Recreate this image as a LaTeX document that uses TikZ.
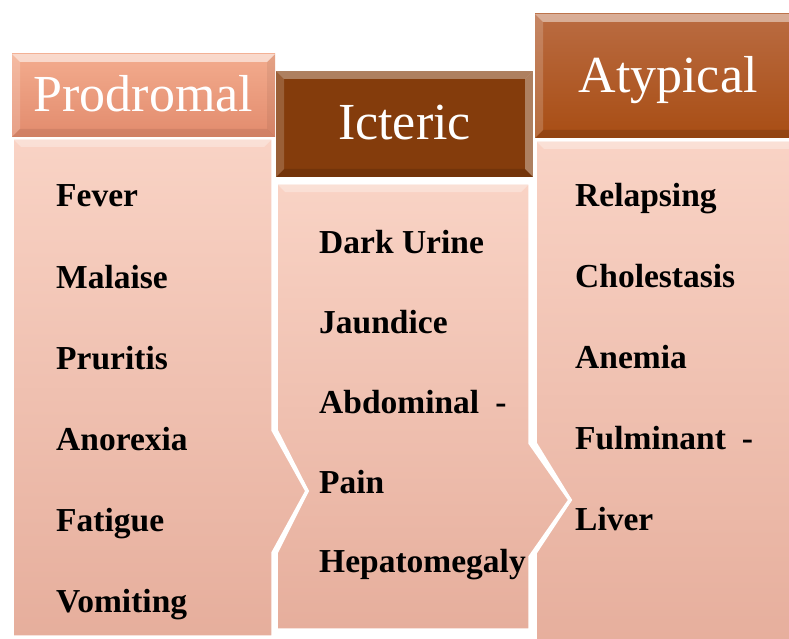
\documentclass[tikz,border=0pt]{standalone}
\usepackage{fontspec}
\setmainfont{Liberation Serif}
\definecolor{hOneTop}{HTML}{F3AC8E}
\definecolor{hOneBot}{HTML}{E28B6D}
\definecolor{hTwo}{HTML}{843C0C}
\definecolor{hThreeTop}{HTML}{BA6C42}
\definecolor{hThreeBot}{HTML}{A84D14}
\definecolor{bodyTop}{HTML}{F9D3C5}
\definecolor{bodyBot}{HTML}{E6AE9C}
\tikzset{
  headtext/.style={text=white, font=\fontsize{52}{58}\selectfont, anchor=base, inner sep=0pt},
  itemtext/.style={text=black, font=\bfseries\fontsize{33.5}{40}\selectfont, anchor=base west, inner sep=0pt},
  bodyshape/.style={top color=bodyTop, bottom color=bodyBot, draw=white, line width=3.5pt, line join=miter},
  hilite/.style={fill=white, fill opacity=0.45, draw=none},
  softhilite/.style={fill=white, fill opacity=0.18, draw=none},
  shade/.style={fill=black, fill opacity=0.12, draw=none},
}
\begin{document}
\begin{tikzpicture}[x=1pt,y=-1pt]
\useasboundingbox (0,0) rectangle (789,639);
\clip (0,0) rectangle (789,639);

% ---- bodies (back to front) ----
\path[bodyshape] (535,140) -- (805,140) -- (805,650) -- (535,650) -- (535,553) -- (570,500) -- (535,443) -- cycle;
\path[hilite,fill opacity=0.3] (537,142) -- (803,142) -- (796,149) -- (544,149) -- cycle;

\path[bodyshape] (276,183) -- (530,183) -- (530,443) -- (570,500) -- (530,557) -- (530,630) -- (276,630) -- (276,553) -- (307,491) -- (276,430) -- cycle;
\path[hilite,fill opacity=0.3] (278,185) -- (528,185) -- (521,192) -- (285,192) -- cycle;

\path[bodyshape] (12,138) -- (273,138) -- (273,430) -- (307,491) -- (273,553) -- (273,637) -- (12,637) -- cycle;
\path[hilite,fill opacity=0.3] (14,140) -- (271,140) -- (264,147) -- (21,147) -- cycle;

% ---- headers ----
\fill[top color=hThreeTop, bottom color=hThreeBot] (535,14) rectangle (805,138);
\path[hilite] (535,14) -- (805,14) -- (798,22) -- (543,22) -- cycle;
\path[softhilite] (535,14) -- (543,22) -- (543,130) -- (535,138) -- cycle;
\path[shade] (535,138) -- (543,130) -- (798,130) -- (805,138) -- cycle;

\fill[hTwo] (276,71) rectangle (533,177);
\path[hilite,fill opacity=0.35] (276,71) -- (533,71) -- (525,79) -- (284,79) -- cycle;
\path[softhilite] (276,71) -- (284,79) -- (284,169) -- (276,177) -- cycle;
\path[hilite,fill opacity=0.35] (533,71) -- (525,79) -- (525,169) -- (533,177) -- cycle;
\path[shade] (276,177) -- (284,169) -- (525,169) -- (533,177) -- cycle;

\fill[top color=hOneTop, bottom color=hOneBot] (12,54) rectangle (275,137);
\path[hilite,fill opacity=0.55] (12,54) -- (275,54) -- (267,62) -- (20,62) -- cycle;
\path[softhilite] (12,54) -- (20,62) -- (20,129) -- (12,137) -- cycle;
\path[shade,fill opacity=0.06] (275,54) -- (267,62) -- (267,129) -- (275,137) -- cycle;
\path[shade,fill opacity=0.08] (12,137) -- (20,129) -- (267,129) -- (275,137) -- cycle;

% ---- header texts ----
\node[headtext] (prodromal) at (143.5,112) {Prodromal};
\node[headtext] (icteric) at (404.5,140) {Icteric};
\node[headtext] (atypical) at (668,93) {Atypical};

% ---- items ----
\node[itemtext] (fever) at (56,207) {Fever};
\node[itemtext] (malaise) at (56,288) {Malaise};
\node[itemtext] (pruritis) at (56,369) {Pruritis};
\node[itemtext] (anorexia) at (56,450) {Anorexia};
\node[itemtext] (fatigue) at (56,531) {Fatigue};
\node[itemtext] (vomiting) at (56,612) {Vomiting};

\node[itemtext] (darkurine) at (319,253) {Dark Urine};
\node[itemtext] (jaundice) at (319,333) {Jaundice};
\node[itemtext] (abdominal) at (319,413) {Abdominal\hspace{16pt}-};
\node[itemtext] (pain) at (319,493) {Pain};
\node[itemtext] (hepato) at (319,572) {Hepatomegaly};

\node[itemtext] (relapsing) at (575,207) {Relapsing};
\node[itemtext] (cholestasis) at (575,287) {Cholestasis};
\node[itemtext] (anemia) at (575,368) {Anemia};
\node[itemtext] (fulminant) at (575,449) {Fulminant\hspace{16pt}-};
\node[itemtext] (liver) at (575,530) {Liver};
\end{tikzpicture}
\end{document}
